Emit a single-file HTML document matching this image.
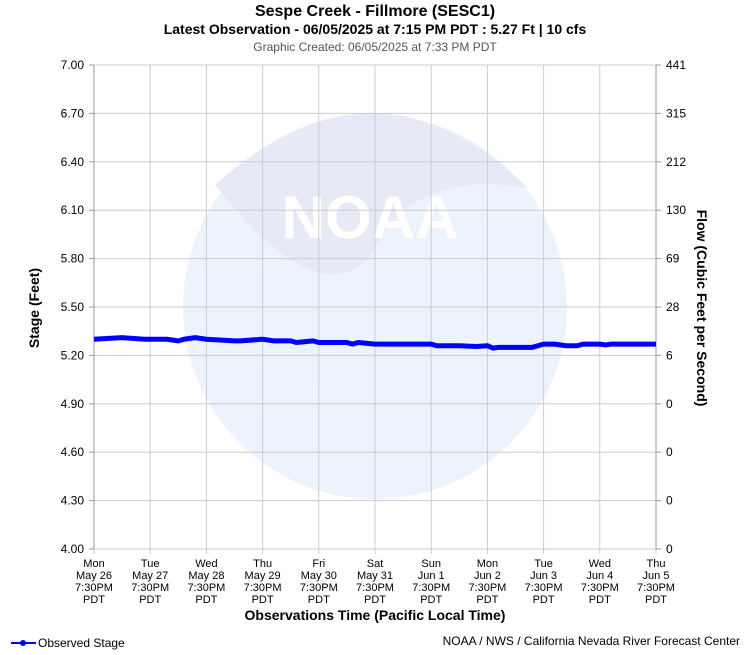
<!DOCTYPE html>
<html><head><meta charset="utf-8"><style>
body{margin:0;background:#fff;font-family:"Liberation Sans",sans-serif}
svg text{font-family:"Liberation Sans",sans-serif}
</style></head><body>
<svg id="c" width="750" height="650" xmlns="http://www.w3.org/2000/svg">
<text x="375" y="16" text-anchor="middle" font-size="16" font-weight="bold">Sespe Creek - Fillmore (SESC1)</text>
<text x="375" y="34" text-anchor="middle" font-size="14" font-weight="bold">Latest Observation - 06/05/2025 at 7:15 PM PDT : 5.27 Ft | 10 cfs</text>
<text x="375" y="51" text-anchor="middle" font-size="12" fill="#555">Graphic Created: 06/05/2025 at 7:33 PM PDT</text>
<g opacity="0.1">
<circle cx="375" cy="307" r="192" fill="#4c8ee8"/>
<path d="M215,185 Q375,40 528,188 Q420,170 380,240 Q330,330 215,185Z" fill="#1d2fb5"/>
<text x="370" y="238" text-anchor="middle" font-size="60" font-weight="bold" fill="#fff">NOAA</text>
</g>
<g id="grid"></g><g id="axes"></g><g id="series"></g>
<text transform="translate(39,308) rotate(-90)" text-anchor="middle" font-size="14" font-weight="bold">Stage (Feet)</text>
<text transform="translate(697,308) rotate(90)" text-anchor="middle" font-size="14" font-weight="bold">Flow (Cubic Feet per Second)</text>
<text x="375" y="620" text-anchor="middle" font-size="14" font-weight="bold">Observations Time (Pacific Local Time)</text>
<g>
<line x1="11" y1="643" x2="36" y2="643" stroke="#00f" stroke-width="2"/><circle cx="23" cy="643" r="3" fill="#00f"/>
<text x="38" y="647" font-size="12">Observed Stage</text></g>
<text x="740" y="645" text-anchor="end" font-size="12">NOAA / NWS / California Nevada River Forecast Center</text>
</svg>
<script>
const yTicks=[4.00,4.30,4.60,4.90,5.20,5.50,5.80,6.10,6.40,6.70,7.00];
const flowTicks=["0","0","0","0","6","28","69","130","212","315","441"];
const dayNames=["Mon","Tue","Wed","Thu","Fri","Sat","Sun","Mon","Tue","Wed","Thu"];
const dayDates=["May 26","May 27","May 28","May 29","May 30","May 31","Jun 1","Jun 2","Jun 3","Jun 4","Jun 5"];
const obsDays=[0,0.5,0.9,1.3,1.5,1.6,1.8,2.0,2.5,2.6,3.0,3.2,3.5,3.6,3.9,4.0,4.5,4.6,4.7,5.0,5.5,6.0,6.1,6.5,6.8,7.0,7.1,7.2,7.8,8.0,8.2,8.4,8.6,8.7,9.0,9.1,9.2,10];
const obsStage=[5.30,5.31,5.30,5.30,5.29,5.30,5.31,5.30,5.29,5.29,5.30,5.29,5.29,5.28,5.29,5.28,5.28,5.27,5.28,5.27,5.27,5.27,5.26,5.26,5.255,5.26,5.245,5.25,5.25,5.27,5.27,5.26,5.26,5.27,5.27,5.265,5.27,5.27];
const X0=94,X1=656,Y0=549,Y1=65;
const xs=d=>X0+(X1-X0)*d/10, ys=v=>Y0-(Y0-Y1)*(v-4)/3;
const NS="http://www.w3.org/2000/svg";
function mk(p,t,a){const e=document.createElementNS(NS,t);for(const k in a)e.setAttribute(k,a[k]);p.appendChild(e);return e;}
const g=document.getElementById('grid'),ax=document.getElementById('axes'),se=document.getElementById('series');
yTicks.forEach((v,i)=>{const y=ys(v);
 const l=mk(g,'line',{x1:X0,x2:X1,y1:y,y2:y,stroke:'#ccc'});
 mk(ax,'line',{x1:X0-5,x2:X0,y1:y,y2:y,stroke:'#999'});mk(ax,'line',{x1:X1,x2:X1+5,y1:y,y2:y,stroke:'#999'});
 const t=mk(ax,'text',{x:X0-10,y:y+4,'text-anchor':'end','font-size':12});t.textContent=v.toFixed(2);
 const t2=mk(ax,'text',{x:X1+10,y:y+4,'font-size':12});t2.textContent=flowTicks[i];
});
dayNames.forEach((n,i)=>{const x=xs(i);
 const l=mk(g,'line',{x1:x,x2:x,y1:Y1,y2:Y0+5,stroke:'#ccc'});
 [n,dayDates[i],"7:30PM","PDT"].forEach((s,j)=>{const t=mk(ax,'text',{x:x,y:567+j*12,'text-anchor':'middle','font-size':11});t.textContent=s;});
});
mk(ax,'line',{x1:X0,x2:X0,y1:Y1,y2:Y0,stroke:'#999'});mk(ax,'line',{x1:X1,x2:X1,y1:Y1,y2:Y0,stroke:'#999'});
const p=mk(se,'polyline',{points:obsDays.map((d,i)=>xs(d)+','+ys(obsStage[i])).join(' '),fill:'none',stroke:'#00f','stroke-width':5,'stroke-linejoin':'round'});

</script>
</body></html>
